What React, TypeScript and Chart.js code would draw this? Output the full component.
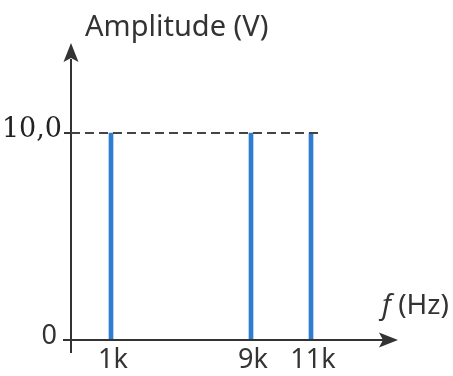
import React, { useEffect, useRef } from "react";
import { Chart, registerables } from "chart.js";

Chart.register(...registerables);

// Frequency axis slots (schematic, not to scale)
const axisSlots = ["", "", "1k", "", "", "", "", "", "", "9k", "", "", "11k", "", "", "", ""];
// Spectral lines
const frequencies = ["1k", "9k", "11k"];
const amplitudes = [10, 10, 10];
// Y tick values and labels
const yTickValues = [0, 10];
const yTickLabels = ["0", "10,0"];
const yTitle = "Amplitude (V)";
const xTitleItalic = "f";
const xTitleRest = " (Hz)";

const AXIS = "#333333";
const BLUE = "#2e7dd1";
const SANS = "'Noto Sans', sans-serif";

const axesPlugin = {
  id: "customAxes",
  afterDatasetsDraw(chart: any) {
    const { ctx, chartArea, scales } = chart;
    const xs = scales.x;
    const ys = scales.y;
    const x0 = chartArea.left;
    const y0 = ys.getPixelForValue(0);
    const top = chartArea.top;
    const xEnd = chartArea.right + 7;
    ctx.save();
    ctx.strokeStyle = AXIS;
    ctx.fillStyle = AXIS;
    ctx.lineWidth = 2;
    ctx.setLineDash([]);
    // y axis
    ctx.beginPath();
    ctx.moveTo(x0, y0 + 13);
    ctx.lineTo(x0, top + 16);
    ctx.stroke();
    // y arrow
    ctx.beginPath();
    ctx.moveTo(x0, top);
    ctx.lineTo(x0 + 7.5, top + 19);
    ctx.lineTo(x0, top + 15);
    ctx.lineTo(x0 - 7.5, top + 19);
    ctx.closePath();
    ctx.fill();
    // x axis
    ctx.beginPath();
    ctx.moveTo(x0 - 8, y0);
    ctx.lineTo(xEnd - 15, y0);
    ctx.stroke();
    // x arrow
    ctx.beginPath();
    ctx.moveTo(xEnd, y0);
    ctx.lineTo(xEnd - 19, y0 - 7.5);
    ctx.lineTo(xEnd - 15, y0);
    ctx.lineTo(xEnd - 19, y0 + 7.5);
    ctx.closePath();
    ctx.fill();
    // tick at 10
    const y10 = ys.getPixelForValue(yTickValues[1]);
    ctx.beginPath();
    ctx.moveTo(x0 - 7, y10);
    ctx.lineTo(x0, y10);
    ctx.stroke();
    // dashed reference line
    const lastX = xs.getPixelForValue(xs.getLabels().indexOf(frequencies[frequencies.length - 1]));
    ctx.strokeStyle = "#444444";
    ctx.setLineDash([9, 5]);
    ctx.beginPath();
    ctx.moveTo(x0, y10);
    ctx.lineTo(lastX + 9, y10);
    ctx.stroke();
    ctx.setLineDash([]);

    // y tick labels
    ctx.fillStyle = "#222222";
    ctx.textAlign = "right";
    ctx.textBaseline = "alphabetic";
    ctx.font = "27px 'DejaVu Serif', serif";
    ctx.fillText(yTickLabels[1], x0 - 9, y10 + 4);
    ctx.fillStyle = AXIS;
    ctx.font = `27px ${SANS}`;
    ctx.fillText(yTickLabels[0], x0 - 14, y0 + 4);

    // x tick labels
    ctx.textAlign = "center";
    ctx.font = `27px ${SANS}`;
    frequencies.forEach((f) => {
      const px = xs.getPixelForValue(xs.getLabels().indexOf(f));
      ctx.fillText(f, px + 2, y0 + 28);
    });

    // titles
    ctx.textAlign = "left";
    ctx.font = `29px ${SANS}`;
    ctx.fillText(yTitle, x0 + 14, 36);
    ctx.font = `italic 28px ${SANS}`;
    const fx = 382;
    ctx.fillText(xTitleItalic, fx, y0 - 26);
    const fw = ctx.measureText(xTitleItalic).width;
    ctx.font = `28px ${SANS}`;
    ctx.fillText(xTitleRest, fx + fw, y0 - 26);
    ctx.restore();
  },
};

export default function App() {
  const ref = useRef<HTMLCanvasElement | null>(null);
  useEffect(() => {
    if (!ref.current) return;
    const chart = new Chart(ref.current, {
      type: "bar",
      data: {
        labels: axisSlots,
        datasets: [
          {
            data: frequencies.map((f, i) => ({ x: f, y: amplitudes[i] })) as any,
            backgroundColor: BLUE,
            barThickness: 4,
            borderWidth: 0,
          },
        ],
      },
      options: {
        animation: false,
        responsive: false,
        maintainAspectRatio: false,
        layout: { padding: { left: 71, top: 43, right: 62, bottom: 36 } },
        plugins: { legend: { display: false }, tooltip: { enabled: false } },
        scales: {
          x: { type: "category", display: false, offset: false, grid: { display: false } },
          y: { type: "linear", display: false, min: 0, max: 14.35, grid: { display: false } },
        },
      },
      plugins: [axesPlugin],
    });
    return () => chart.destroy();
  }, []);
  return (
    <div style={{ position: "fixed", left: 0, top: 0, width: 453, height: 376, background: "#fff" }}>
      <canvas ref={ref} width={453} height={376} style={{ display: "block" }} />
    </div>
  );
}
